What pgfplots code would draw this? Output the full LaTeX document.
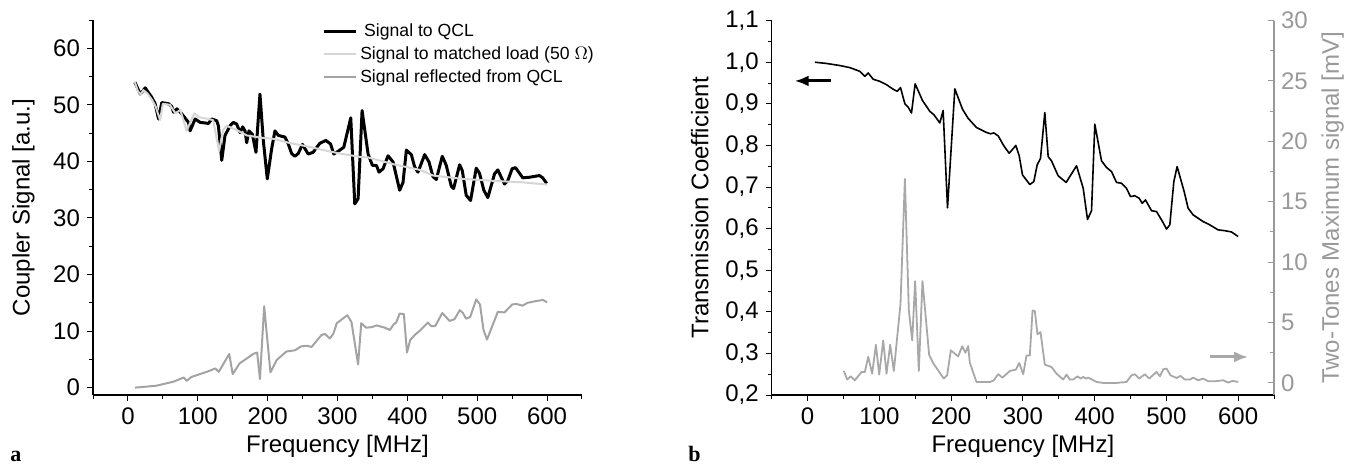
\documentclass[border=0pt]{standalone}
\usepackage{fontspec}
\setmainfont{Liberation Sans}
\newfontfamily\serifb{Liberation Serif}
\usepackage{pgfplots}
\pgfplotsset{compat=1.18}
\usetikzlibrary{arrows.meta}
\definecolor{lgray}{HTML}{D6D6D6}
\definecolor{mgray}{HTML}{A3A3A3}
\definecolor{rgray}{HTML}{A8A8A8}
\definecolor{axgray}{HTML}{999999}

\pgfplotstableread{
f y
10 54.0
17.6 51.9
24.7 53.0
34.3 51.3
38.9 50.2
43.8 47.5
48.5 50.4
58 50.2
62.8 49.7
65.2 48.7
70 49.3
77.1 48.4
86.7 46.9
89 45.4
96.2 47.5
103.3 46.9
110.5 46.8
115.2 46.7
120 47.5
127.1 47.2
129.5 46.3
134.3 40.2
139 44.6
146.2 46.3
151 46.9
155.7 46.6
160.5 45.1
164.3 46.1
167.6 45.4
170 43.3
173.3 45.4
178.1 44.8
183.3 41.6
189 51.9
193.8 43.7
199.5 36.9
205.7 42.2
210.5 45.4
215.2 44.6
224.8 44.3
229.5 43.1
234.3 41.4
239 40.9
243.8 41.4
249.9 43.0
258 41.3
265 41.6
274.7 43.2
283.3 43.7
290 43.1
294.7 41.3
301 41.8
309 42.5
319 47.7
324.7 32.5
329.5 33.4
335.2 49.0
343.8 41.3
350 39.3
355.7 39.3
359.5 38.1
365.2 38.7
372.4 41.0
379.5 39.9
389 34.9
393.8 36.3
398.6 42.0
405.7 41.2
410.5 39.0
415.2 38.1
424.8 41.2
431 39.9
436.7 37.3
441.4 36.8
450 40.9
455.7 39.3
462.9 35.6
466.2 35.2
474.8 39.4
478.6 38.4
484.3 34.0
490.5 33.1
498.6 38.8
503.3 37.9
509.5 34.9
515.2 33.6
524.8 37.8
529.5 38.5
539 36.0
543.8 36.6
550 38.7
554.8 38.9
565.2 37.1
574.8 37.2
589 37.5
593.8 37.1
599.5 36.1
}\qcl

\pgfplotstableread{
f y
10 54.0
14 52.5
18 51.8
22 52.6
28 52.0
35 50.8
40 49.6
46 47.3
50 50.2
60 50.0
68 48.5
75 49.1
84 45.4
95 48.5
102 47.8
115 47.5
122 47.3
130.5 41.8
136 45.5
141 46.3
155 45.6
170 44.6
190 44.2
208 44.0
230 43.3
255 42.7
280 42.0
303 41.4
332 40.8
344 40.7
380 39.5
418 38.5
437 37.5
480 36.9
518 36.6
565 36.3
600 35.9
}\load

\pgfplotstableread{
f y
10 0
41 0.35
65 1.05
80 1.8
84 1.2
91 1.9
113 2.8
125 3.4
130 2.8
145 5.95
150 2.4
160 4.3
180 6.0
185 6.2
189 1.5
195 14.4
204 2.7
213 4.9
227 6.4
239 6.6
248 7.3
256 7.4
263 7.2
277 9.3
282 9.5
289 8.7
294 9.5
299 11.4
314 12.8
320 11.6
329.5 4.1
334 11.4
341 10.6
349 10.7
356 11.0
368 10.6
375 10.2
380.5 11.2
384 11.5
389 13.1
395 13.0
399.5 6.2
404 8.4
410.5 9.3
418 10.1
429.5 11.5
434 10.9
440 10.9
450 13.2
460.5 11.8
467.5 12.1
475 13.7
479.5 13.2
484 12.2
490 12.5
498.6 15.6
504 14.7
509 10.2
514 8.5
529.5 13.4
539 13.3
550 14.7
556 14.8
565 14.5
572 15.0
584 15.3
594 15.5
600 15.1
}\refl

\pgfplotstableread{
f y
10.2 1.000
26.4 0.997
45 0.992
59 0.987
72.9 0.978
79.8 0.966
84.5 0.974
91.5 0.959
100.7 0.954
110 0.946
119.3 0.935
124.9 0.930
129.5 0.939
135.6 0.900
140.2 0.892
144.8 0.878
149.9 0.948
160.1 0.908
170.3 0.882
175.9 0.874
184.3 0.854
188.9 0.884
195 0.650
205.2 0.936
215.9 0.887
223.8 0.865
235.4 0.843
242.4 0.837
249.4 0.831
254.9 0.828
259.6 0.830
265.6 0.823
273.5 0.799
281 0.781
290.2 0.800
294.9 0.775
299.5 0.729
309.7 0.706
315.3 0.713
319.9 0.753
324.6 0.769
330.6 0.879
335.3 0.773
339.9 0.763
349.2 0.727
360.3 0.711
374.8 0.751
384.1 0.697
390.1 0.622
395.7 0.643
400.3 0.851
409.6 0.763
416.6 0.747
423.6 0.737
430.5 0.711
437.5 0.709
444.4 0.697
450 0.677
456 0.679
462.1 0.673
466.3 0.661
470.9 0.669
479.3 0.643
486.3 0.641
494.6 0.617
500.2 0.599
504.8 0.609
510.4 0.713
515 0.749
524.8 0.689
530.3 0.649
537.3 0.633
551.2 0.617
560.5 0.609
572.1 0.597
581.4 0.595
590.7 0.592
600 0.581
}\trans

\pgfplotstableread{
f y
50.6 0.99
55.2 0.28
59.9 0.55
65.9 0.22
75.2 0.91
79.8 0.91
84.5 2.16
90 0.77
95.2 3.16
99.8 0.69
105.4 3.52
110 0.77
115.1 3.16
120.2 0.99
129.5 6.56
135.6 16.9
141.1 6.0
145.8 3.52
149.9 8.43
155 0.99
160.1 8.43
169.4 2.33
175 1.64
189.8 0.36
194.5 0.63
199.6 2.7
209.8 2.2
215.4 3.03
220 2.5
223.8 3.05
226.1 1.67
235.4 0.07
254 0.07
259.6 0.22
265.6 0.72
271.6 0.44
281.9 0.99
290.2 1.10
294.9 1.65
300.5 0.72
305.1 2.27
309.7 2.27
313.5 6.0
316.7 5.95
320.4 4.02
324.6 4.21
330.6 1.51
339.9 1.32
346.9 0.77
356.2 0.28
360.8 0.69
365.5 0.28
370.1 0.28
376.2 0.55
380.4 0.36
384.1 0.50
387.8 0.36
391.1 0.44
402.7 0.08
412 0.0
430.5 0.0
444.4 0.08
451.4 0.63
456 0.72
462.1 0.36
470 0.72
476 0.36
486.3 0.91
491 0.55
495.6 1.13
500.2 1.19
505.8 0.63
514.2 0.41
519.7 0.58
525.8 0.28
532.8 0.28
537.4 0.44
544.4 0.22
551.3 0.36
558.3 0.14
567.6 0.14
579.2 0.22
586.2 0.03
592.2 0.17
600.1 0.08
}\twotone

\begin{document}
\begin{tikzpicture}
\path[use as bounding box] (0pt,0pt) rectangle (674pt,234pt);
\pgfplotsset{
  common/.style={
    scale only axis,
    /pgf/number format/assume math mode=true,
    tick label style={font=\fontsize{12}{14}\selectfont},
    label style={font=\fontsize{12}{14}\selectfont},
    xlabel shift=-2pt,
    xmin=-50, xmax=650,
    xtick={0,100,...,600},
    minor xtick={-50,50,...,650},
    major tick length=3pt,
    minor tick length=1.8pt,
    every tick/.style={line width=0.5pt},
    axis line style={line width=0.6pt},
    clip=false,
  }
}
\begin{axis}[common,
  at={(46.5pt,36.5pt)}, anchor=south west,
  width=244.5pt, height=187.5pt,
  axis x line*=bottom, axis y line*=left,
  tick align=outside,
  ymin=-1.3, ymax=65,
  ytick={0,10,...,60},
  minor ytick={5,15,...,65},
  xlabel={Frequency [MHz]},
  ylabel={Coupler Signal [a.u.]},
  ylabel shift=2.5pt,
  legend cell align=left,
  legend style={draw=none, fill=none, at={(0.468,1.0)}, anchor=north west,
    font=\fontsize{8.8}{9.6}\selectfont, row sep=0.6pt, inner sep=0pt,
    nodes={inner sep=1.5pt}},
  legend image code/.code={\draw[#1] (0pt,0pt) -- (16pt,0pt);},
]
\addplot[black, line width=1.5pt, line join=round] table[x=f,y=y] {\qcl};
\addlegendentry{\hspace{2pt}Signal to QCL}
\addplot[lgray, line width=1pt, line join=round] table[x=f,y=y] {\load};
\addlegendentry{Signal to matched load (50 $\Omega$)}
\addplot[mgray, line width=1pt, line join=round] table[x=f,y=y] {\refl};
\addlegendentry{Signal reflected from QCL}
\end{axis}

\begin{axis}[common,
  at={(385.85pt,36.5pt)}, anchor=south west,
  width=251.15pt, height=187.2pt,
  axis x line*=bottom, axis y line*=left,
  tick align=outside,
  ymin=0.2, ymax=1.1,
  ytick={0.2,0.3,0.4,0.5,0.6,0.7,0.8,0.9,1.0,1.1},
  yticklabels={{0,2},{0,3},{0,4},{0,5},{0,6},{0,7},{0,8},{0,9},{1,0},{1,1}},
  minor ytick={0.25,0.35,0.45,0.55,0.65,0.75,0.85,0.95,1.05},
  xlabel={Frequency [MHz]},
  ylabel={Transmission Coefficient},
  ylabel shift=1.5pt,
]
\addplot[black, line width=0.8pt, line join=round] table[x=f,y=y] {\trans};
\draw[black, line width=1.5pt, -{Latex[length=7pt,width=5.5pt]}] (axis cs:33,0.955) -- (axis cs:-18,0.955);
\end{axis}

\begin{axis}[common,
  at={(385.85pt,36.5pt)}, anchor=south west,
  width=251.15pt, height=187.2pt,
  axis x line=none, axis y line*=right,
  tick align=inside,
  ymin=-1, ymax=30,
  ytick={0,5,...,30},
  minor ytick={2.5,7.5,...,27.5},
  y axis line style={axgray},
  every tick/.append style={axgray},
  yticklabel style={text=axgray},
  ylabel style={text=axgray},
  ylabel={Two-Tones Maximum signal [mV]},
]
\addplot[rgray, line width=0.9pt, line join=round] table[x=f,y=y] {\twotone};
\draw[rgray, line width=1.5pt, -{Latex[length=7pt,width=5.5pt]}] (axis cs:561,2.15) -- (axis cs:614,2.15);
\end{axis}

\node[anchor=base west, inner sep=0pt, font=\serifb\bfseries\fontsize{11}{13}\selectfont] at (5pt,3.5pt) {a};
\node[anchor=base west, inner sep=0pt, font=\serifb\bfseries\fontsize{11}{13}\selectfont] at (344pt,3.5pt) {b};
\end{tikzpicture}
\end{document}
